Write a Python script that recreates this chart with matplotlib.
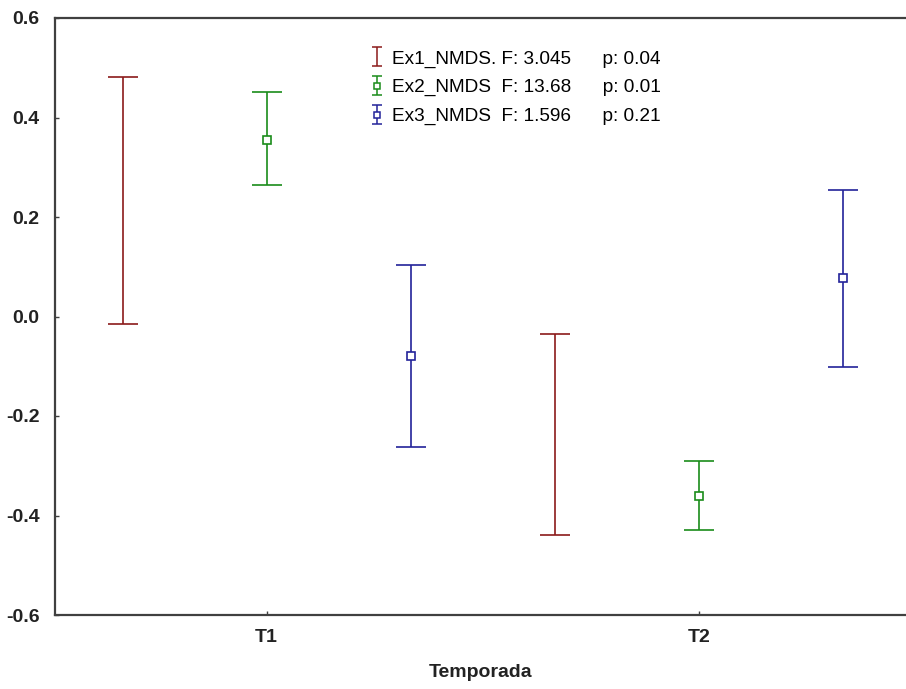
import numpy as np
import matplotlib
matplotlib.use("Agg")
import matplotlib.pyplot as plt

# group means and upper/lower limits
seasons = ["T1", "T2"]
series = ["Ex1_NMDS.", "Ex2_NMDS ", "Ex3_NMDS "]
f_vals = ["3.045", "13.68", "1.596"]
p_vals = ["0.04", "0.01", "0.21"]
means = [[0.233, -0.237], [0.355, -0.361], [-0.079, 0.077]]
upper = [[0.481, -0.035], [0.451, -0.290], [0.104, 0.254]]
lower = [[-0.015, -0.439], [0.264, -0.429], [-0.262, -0.101]]
colors = ["#8b1a1a", "#1a8c1a", "#23239a"]
markers = ["none", "s", "s"]

fig = plt.figure(figsize=(9.06, 6.89), dpi=100)
ax = fig.add_axes([55/906, 74/689, 1 - 55/906, 597/689])

x = np.arange(len(seasons))
offs = [-1/3, 0, 1/3]
handles = []
labels = []
for i in range(3):
    m = np.array(means[i])
    err = [m - np.array(lower[i]), np.array(upper[i]) - m]
    ax.errorbar(x + offs[i], m, yerr=err, fmt=markers[i], color=colors[i],
                mfc="white", mec=colors[i], ms=6, mew=1.2, elinewidth=1.2,
                capsize=10.5, capthick=1.2)
    # proxy with small caps for the legend
    h = ax.errorbar([np.nan], [np.nan], yerr=[0.1], fmt=markers[i], color=colors[i],
                    mfc="white", mec=colors[i], ms=4.5, mew=1.1, elinewidth=1.1,
                    capsize=3.5, capthick=1.1)
    handles.append(h)
    labels.append(series[i] + " F: " + f_vals[i] + "      p: " + p_vals[i])

ax.set_xlim(-0.49, 1.48)
ax.set_ylim(-0.6, 0.6)
ax.set_yticks([-0.6, -0.4, -0.2, 0.0, 0.2, 0.4, 0.6])
ax.set_yticklabels(["-0.6", "-0.4", "-0.2", "0.0", "0.2", "0.4", "0.6"])
ax.set_xticks(x)
ax.set_xticklabels(seasons)
for t in ax.get_xticklabels() + ax.get_yticklabels():
    t.set_family("Liberation Sans")
    t.set_fontweight("bold")
    t.set_fontsize(14)
    t.set_color("#222222")
ax.tick_params(direction="in", length=3, width=1, color="#404040", pad=10)
ax.tick_params(axis="y", pad=11)

for s in ["left", "top", "bottom"]:
    ax.spines[s].set_color("#404040")
    ax.spines[s].set_linewidth(1.6)
ax.spines["right"].set_visible(False)

ax.set_xlabel("Temporada", family=["Liberation Sans Narrow", "Liberation Sans"],
              fontweight="bold", fontsize=14, color="#222222", labelpad=13)

leg = ax.legend(handles, labels, loc="upper left", bbox_to_anchor=(0.351, 0.975),
                frameon=False, prop={"family": "Liberation Sans", "size": 13.7},
                handlelength=0.6, handletextpad=0.5, labelspacing=0.6)

fig.savefig("out.png", dpi=100)
